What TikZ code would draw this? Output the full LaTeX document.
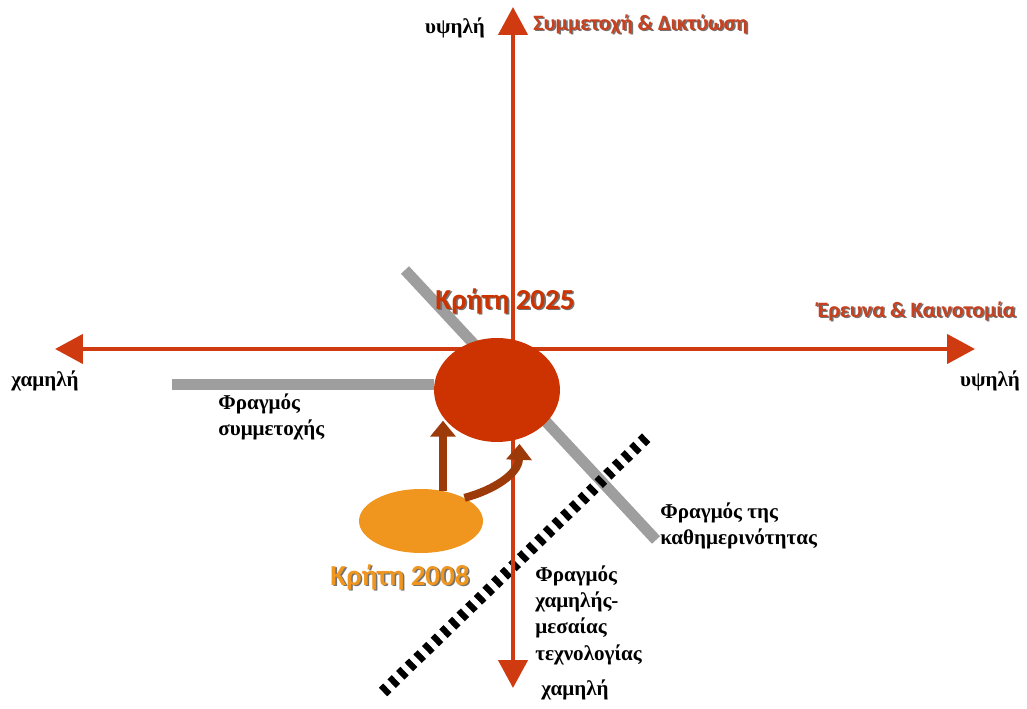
\documentclass[tikz,border=0pt]{standalone}
\usepackage{fontspec}
\setmainfont{Liberation Serif}
\newfontfamily\labelfont{Carlito}
\usetikzlibrary{positioning,arrows.meta,shapes.geometric}

\definecolor{axisred}{HTML}{D03A10}
\definecolor{titlered}{HTML}{C9401F}
\definecolor{futurered}{HTML}{CC3300}
\definecolor{nowamber}{HTML}{F0961E}
\definecolor{growthbrown}{HTML}{9C3A0A}

% text with a soft drop shadow
\newcommand\shadowed[1]{\makebox[0pt][l]{\kern0.9pt\raisebox{-0.9pt}{\color{black!55}#1}}#1}

\begin{document}
\begin{tikzpicture}[x=0.02cm, y=0.02cm,
    axis/.style={draw=axisred, line width=0.09cm,
      {Triangle[length=0.56cm,width=0.58cm]}-{Triangle[length=0.56cm,width=0.58cm]}},
    barrier/.style={draw=black!38, line width=0.22cm},
    hatched/.style={draw=black, line width=0.24cm, dash pattern=on 0.12cm off 0.12cm},
    growth/.style={draw=growthbrown, line width=0.16cm, -{Triangle[length=0.32cm,width=0.5cm]}},
    region/.style={ellipse, inner sep=0pt},
    level/.style={font=\bfseries\fontsize{12}{15}\selectfont, inner sep=0pt},
    note/.style={font=\bfseries\fontsize{12}{15}\selectfont, align=left, inner sep=0pt},
    heading/.style={text=titlered, font=\labelfont\bfseries\fontsize{12.5}{15}\selectfont, inner sep=0pt},
    year/.style={font=\labelfont\bfseries\fontsize{16.5}{19}\selectfont, inner sep=0pt}]
  \useasboundingbox (0,0) rectangle (1027,709);

  % axes ends and barrier ends
  \coordinate (top) at (513,702);
  \coordinate (bottom) at (513,21);
  \coordinate (left) at (55,360);
  \coordinate (right) at (975,360);
  \coordinate (p1) at (172,324);
  \coordinate (p2) at (434,324);
  \coordinate (d1) at (405,439);
  \coordinate (d2) at (656,169);
  \coordinate (t1) at (383,17);
  \coordinate (t2) at (648,273);

  % barriers
  \draw[barrier] (p1) -- (p2);
  \draw[barrier] (d1) -- (d2);
  \draw[hatched] (t1) -- (t2);

  % axes
  \draw[axis] (bottom) -- (top);
  \draw[axis] (left) -- (right);

  % regions
  \node[region, fill=futurered, minimum width=2.52cm, minimum height=2.08cm] (k2025) at (497,319) {};
  \node[region, fill=nowamber, minimum width=2.48cm, minimum height=1.28cm] (k2008) at (421,188) {};

  \draw[growth] (k2008.54) -- ++(0,70);
  \draw[growth] (k2008.28) to[out=15, in=-92] ++(55,54);

  % labels
  \node[level] (ytop) at (455,681) {υψηλή};
  \node[heading, anchor=west] (ytitle) at (533,684) {\shadowed{Συμμετοχή \& Δικτύωση}};
  \node[heading, anchor=east] (xtitle) at (1016,397) {\shadowed{Έρευνα \& Καινοτομία}};
  \node[level] (xhigh) at (990,328) {υψηλή};
  \node[level] (xlow) at (45,328) {χαμηλή};
  \node[level] (ylow) at (575,19) {χαμηλή};
  \node[year, text=futurered] (l2025) at (505,407) {\shadowed{Κρήτη 2025}};
  \node[year, text=nowamber] (l2008) at (400,131) {\shadowed{Κρήτη 2008}};
  \node[note, anchor=north west] (f1) at (218,316) {Φραγμός\\συμμετοχής};
  \node[note, anchor=north west] (f2) at (660,207) {Φραγμός της\\καθημερινότητας};
  \node[note, anchor=north west] (f3) at (535,144) {Φραγμός\\χαμηλής-\\μεσαίας\\τεχνολογίας};
\end{tikzpicture}
\end{document}
